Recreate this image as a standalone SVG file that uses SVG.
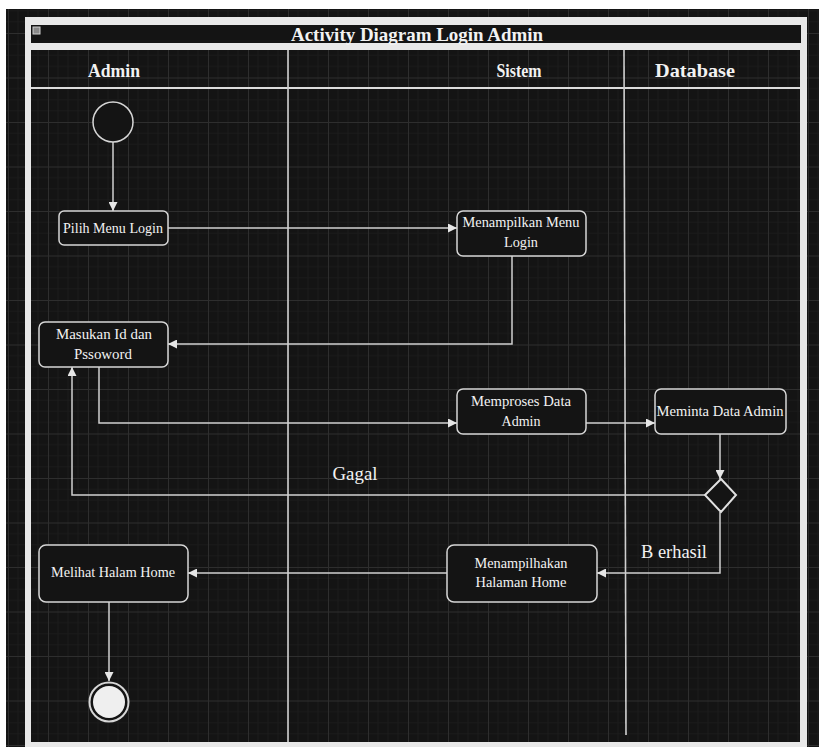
<svg xmlns="http://www.w3.org/2000/svg" width="819" height="747" viewBox="0 0 819 747">
<defs>
<pattern id="grid" patternUnits="userSpaceOnUse" x="8" y="33" width="40" height="44.5">
<rect width="40" height="44.5" fill="#141414"/>
<path d="M10 0V44.5M20 0V44.5M30 0V44.5M0 11.1H40M0 22.2H40M0 33.4H40" stroke="#1b1b1b" stroke-width="1"/>
<path d="M0.5 0V44.5M0 0.5H40" stroke="#2e2e2e" stroke-width="1"/>
</pattern>
<marker id="arr" viewBox="0 0 10 10" refX="10" refY="5" markerWidth="9" markerHeight="9" markerUnits="userSpaceOnUse" orient="auto">
<path d="M0 0L10 5L0 10Z" fill="#e6e6e6"/>
</marker>
<style>
.node{fill:#141414;stroke:#d6d6d6;stroke-width:1.5}
.t{font-family:"Liberation Serif","Times New Roman",serif;fill:#f2f2f2;text-anchor:middle}
.nt{font-size:14px}
.hd{font-size:19px;font-weight:bold}
.lbl{font-size:18px}
.c{fill:none;stroke:#d0d0d0;stroke-width:1.5}
.lane{stroke:#d0d0d0;stroke-width:1.6}
</style>
</defs>
<rect x="0" y="0" width="819" height="747" fill="#ffffff"/>
<rect x="6" y="9" width="813" height="738" fill="url(#grid)"/>
<g id="frame">
<rect x="25" y="17" width="782" height="735" fill="#e8e8e8"/>
<rect x="31" y="25" width="770" height="18" fill="#141414"/>
<rect x="31" y="50" width="769" height="692" fill="url(#grid)"/>
<rect x="33" y="27" width="7" height="7" fill="#8a8a8a" stroke="#cfcfcf" stroke-width="1"/>
<text class="t hd" x="417" y="41" font-size="18" textLength="252" lengthAdjust="spacingAndGlyphs">Activity Diagram Login Admin</text>
<line x1="31" y1="88" x2="800" y2="88" stroke="#dcdcdc" stroke-width="2"/>
<line class="lane" x1="288" y1="50" x2="288" y2="742"/>
<line class="lane" x1="624" y1="50" x2="626" y2="735"/>
<text class="t hd" x="114" y="77" textLength="52" lengthAdjust="spacingAndGlyphs">Admin</text>
<text class="t hd" x="519" y="77" textLength="45" lengthAdjust="spacingAndGlyphs">Sistem</text>
<text class="t hd" x="695" y="77" textLength="80" lengthAdjust="spacingAndGlyphs">Database</text>
</g>
<g id="connectors">
<line class="c" x1="113" y1="142" x2="113" y2="211" marker-end="url(#arr)"/>
<line class="c" x1="168" y1="228" x2="457" y2="228" marker-end="url(#arr)"/>
<polyline class="c" points="512,256 512,344 168,344" marker-end="url(#arr)"/>
<polyline class="c" points="99,367 99,423 457,423" marker-end="url(#arr)"/>
<line class="c" x1="586" y1="423" x2="655" y2="423" marker-end="url(#arr)"/>
<line class="c" x1="720" y1="434" x2="720" y2="479" marker-end="url(#arr)"/>
<polyline class="c" points="705,495 72,495 72,367" marker-end="url(#arr)"/>
<polyline class="c" points="720,512 720,573 597,573" marker-end="url(#arr)"/>
<line class="c" x1="447" y1="573" x2="188" y2="573" marker-end="url(#arr)"/>
<line class="c" x1="109" y1="602" x2="109" y2="681" marker-end="url(#arr)"/>
<text class="t lbl" x="355" y="480" textLength="45" lengthAdjust="spacingAndGlyphs">Gagal</text>
<text class="t lbl" x="674" y="558" textLength="66" lengthAdjust="spacingAndGlyphs">B erhasil</text>
</g>
<g id="start">
<circle cx="113" cy="122" r="20" fill="#141414" stroke="#d6d6d6" stroke-width="1.5"/>
</g>
<g id="pilih">
<rect class="node" x="59" y="211" width="109" height="34" rx="5"/>
<text class="t nt" x="113" y="233" textLength="100" lengthAdjust="spacingAndGlyphs">Pilih Menu Login</text>
</g>
<g id="menampilkan">
<rect class="node" x="457" y="211" width="129" height="45" rx="6"/>
<text class="t nt" x="521" y="227" textLength="117" lengthAdjust="spacingAndGlyphs">Menampilkan Menu</text>
<text class="t nt" x="521" y="247" textLength="34" lengthAdjust="spacingAndGlyphs">Login</text>
</g>
<g id="masukan">
<rect class="node" x="39" y="322" width="129" height="45" rx="6"/>
<text class="t nt" x="104" y="339" textLength="96" lengthAdjust="spacingAndGlyphs">Masukan Id dan</text>
<text class="t nt" x="103" y="359" textLength="58" lengthAdjust="spacingAndGlyphs">Pssoword</text>
</g>
<g id="memproses">
<rect class="node" x="457" y="389" width="129" height="45" rx="6"/>
<text class="t nt" x="521" y="406" textLength="100" lengthAdjust="spacingAndGlyphs">Memproses Data</text>
<text class="t nt" x="521" y="426" textLength="39" lengthAdjust="spacingAndGlyphs">Admin</text>
</g>
<g id="meminta">
<rect class="node" x="655" y="389" width="131" height="45" rx="6"/>
<text class="t nt" x="720" y="416" textLength="127" lengthAdjust="spacingAndGlyphs">Meminta Data Admin</text>
</g>
<g id="decision">
<polygon points="721,479 736,495 721,512 705,495" fill="#141414" stroke="#e0e0e0" stroke-width="2"/>
</g>
<g id="menampilhakan">
<rect class="node" x="447" y="545" width="150" height="57" rx="7"/>
<text class="t nt" x="521" y="568" textLength="93" lengthAdjust="spacingAndGlyphs">Menampilhakan</text>
<text class="t nt" x="521" y="587" textLength="91" lengthAdjust="spacingAndGlyphs">Halaman Home</text>
</g>
<g id="melihat">
<rect class="node" x="39" y="545" width="149" height="57" rx="7"/>
<text class="t nt" x="113" y="577" textLength="124" lengthAdjust="spacingAndGlyphs">Melihat Halam Home</text>
</g>
<g id="end">
<circle cx="109" cy="702" r="19.5" fill="#141414" stroke="#d6d6d6" stroke-width="2"/>
<circle cx="109" cy="702" r="16" fill="#efefef"/>
</g>
</svg>
